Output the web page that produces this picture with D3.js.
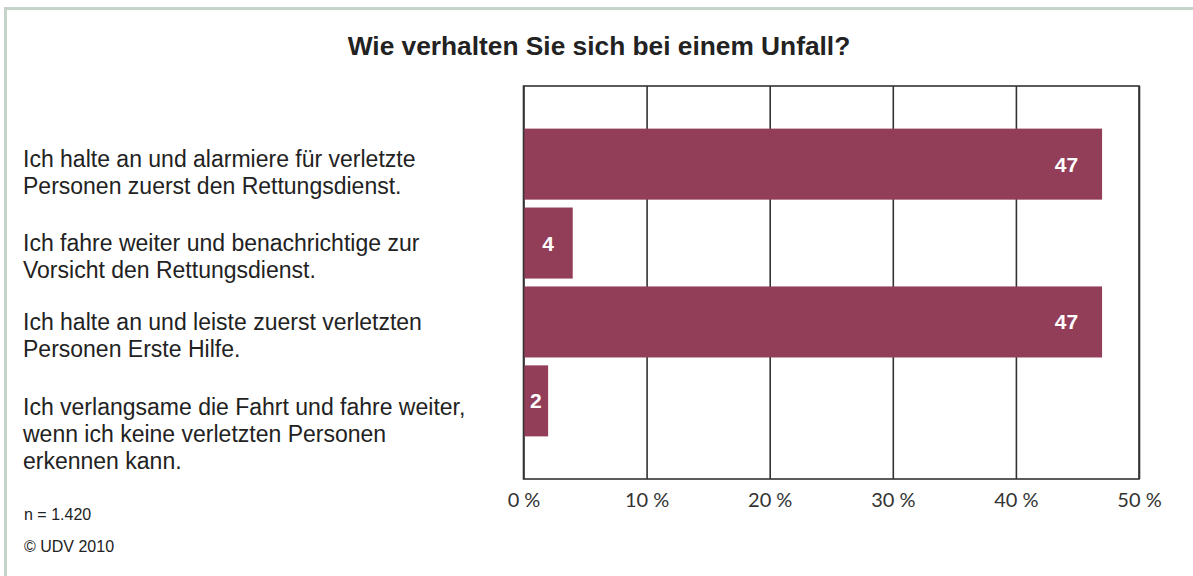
<!doctype html>
<html>
<head>
	<meta charset="utf-8">
	<title>Unfall</title>
	<script src="https://cdn.jsdelivr.net/npm/d3@7"></script>
	<style>
		body { margin: 0; background: #fff; }
		svg { display: block; }
	</style>
</head>
<body>
<script>
// data
var title = "Wie verhalten Sie sich bei einem Unfall?"
var categories = ["alarmieren", "weiterfahren", "erste_hilfe", "verlangsamen"]
var labelLines = [
	["Ich halte an und alarmiere für verletzte", "Personen zuerst den Rettungsdienst."],
	["Ich fahre weiter und benachrichtige zur", "Vorsicht den Rettungsdienst."],
	["Ich halte an und leiste zuerst verletzten", "Personen Erste Hilfe."],
	["Ich verlangsame die Fahrt und fahre weiter,", "wenn ich keine verletzten Personen", "erkennen kann."]
]
var values = [47, 4, 47, 2]
var ticks = [0, 10, 20, 30, 40, 50]
var notes = ["n = 1.420", "© UDV 2010"]

var width = 1193
var height = 576
var plotLeft = 523.5, plotRight = 1139, plotTop = 86, plotBottom = 479
var barColor = "#933e59"
var ink = "#222"

var svg = d3.select("body")
	.append("svg")
	.attr("width", width)
	.attr("height", height)

// outer frame
svg.append("rect")
	.attr("x", 5.5)
	.attr("y", 8.5)
	.attr("width", 2000)
	.attr("height", 2000)
	.attr("fill", "none")
	.attr("stroke", "#c6d3cb")
	.attr("stroke-width", 3)

svg.append("text")
	.attr("x", 599)
	.attr("y", 55)
	.attr("text-anchor", "middle")
	.attr("font-family", "Liberation Sans, Arial, sans-serif")
	.attr("font-weight", "bold")
	.attr("font-size", 26.3)
	.attr("fill", ink)
	.text(title)

var x = d3.scaleLinear().domain([0, 50]).range([plotLeft, plotRight])
var y = d3.scaleBand().domain(categories).range([plotTop, plotBottom])
	.paddingInner(0.1).paddingOuter(0.54)

// grid + tick labels
var axis = svg.append("g")
	.attr("transform", "translate(0," + plotBottom + ")")
	.call(d3.axisBottom(x)
		.tickValues(ticks)
		.tickSize(-(plotBottom - plotTop))
		.tickPadding(28)
		.tickFormat(function(d) { return d + " %" }))
axis.select(".domain").remove()
axis.selectAll(".tick line")
	.attr("stroke", "#333")
	.attr("stroke-width", 1.6)
axis.selectAll(".tick text")
	.attr("font-family", "Lato, sans-serif")
	.attr("font-size", 20)
	.attr("fill", "#333")
	.attr("dy", 0)

svg.selectAll("rect.bar")
	.data(values)
	.enter()
	.append("rect")
	.attr("class", "bar")
	.attr("x", x(0))
	.attr("y", function(d, i) { return y(categories[i]) })
	.attr("width", function(d) { return x(d) - x(0) })
	.attr("height", y.bandwidth())
	.attr("fill", barColor)

// plot frame
svg.append("rect")
	.attr("x", plotLeft)
	.attr("y", plotTop)
	.attr("width", plotRight - plotLeft)
	.attr("height", plotBottom - plotTop)
	.attr("fill", "none")
	.attr("stroke", "#333")
	.attr("stroke-width", 1.6)

svg.selectAll("text.val")
	.data(values)
	.enter()
	.append("text")
	.attr("class", "val")
	.attr("x", function(d) { return d < 10 ? (x(0) + x(d)) / 2 : x(d) - 24 })
	.attr("y", function(d, i) { return y(categories[i]) + y.bandwidth() / 2 + 7.5 })
	.attr("text-anchor", function(d) { return d < 10 ? "middle" : "end" })
	.attr("font-family", "Liberation Sans, Arial, sans-serif")
	.attr("font-weight", "bold")
	.attr("font-size", 21)
	.attr("fill", "#fff")
	.text(function(d) { return d })

// category labels, first baselines
var labelTop = [167, 251, 330, 415]
labelLines.forEach(function(lines, i) {
	var t = svg.append("text")
		.attr("font-family", "Liberation Sans, Arial, sans-serif")
		.attr("font-size", 23)
		.attr("fill", ink)
	lines.forEach(function(line, j) {
		t.append("tspan")
			.attr("x", 23)
			.attr("y", labelTop[i] + j * 27)
			.text(line)
	})
})

svg.selectAll("text.note")
	.data(notes)
	.enter()
	.append("text")
	.attr("class", "note")
	.attr("x", 24)
	.attr("y", function(d, i) { return 520 + i * 32 })
	.attr("font-family", "Liberation Sans, Arial, sans-serif")
	.attr("font-size", 16)
	.attr("fill", ink)
	.text(function(d) { return d })
</script>
</body>
</html>
